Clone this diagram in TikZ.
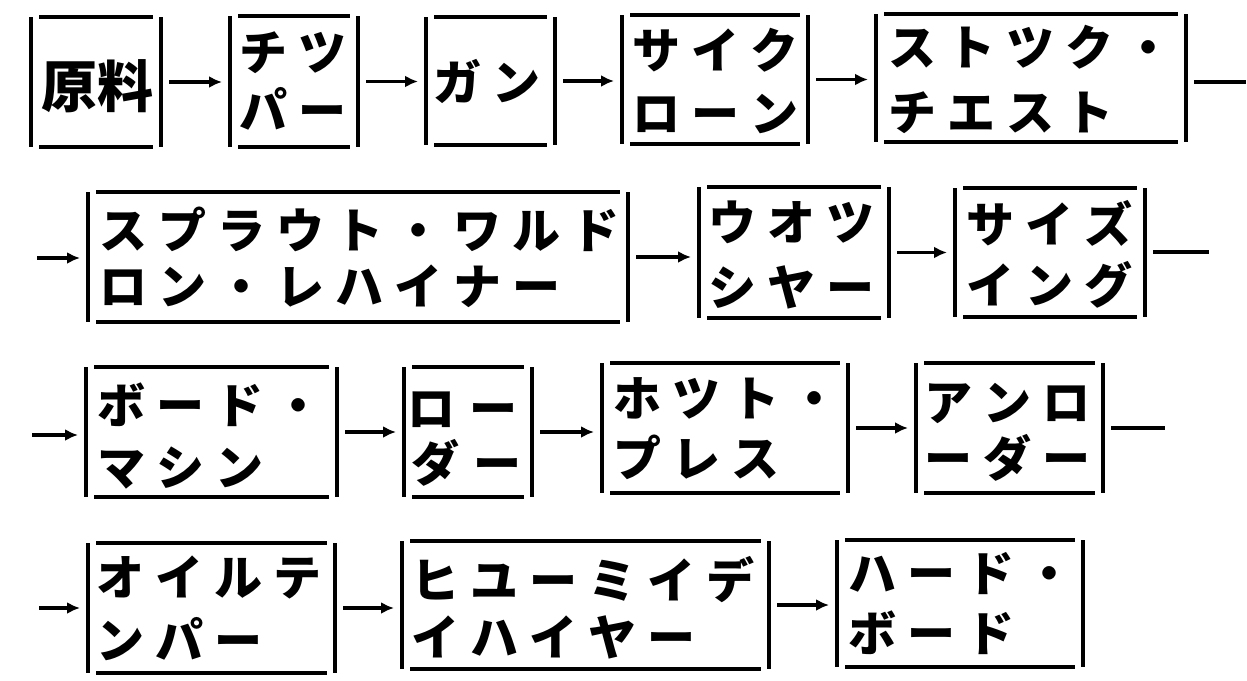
\documentclass[tikz,border=0pt]{standalone}
\usepackage{fontspec}
\newfontfamily\jp{Noto Sans CJK JP}
\usetikzlibrary{arrows.meta}
\newlength\kkpitch
\setlength\kkpitch{59pt}
\newcommand\kk[1]{\kkloop#1\relax}
\def\kkloop#1{\ifx#1\relax\else\makebox[\kkpitch][c]{#1}\expandafter\kkloop\fi}
\tikzset{
  side/.style={line width=3.8pt},
  arr/.style={line width=3.4pt, -{Latex[length=13pt,width=12pt]}, shorten <=8pt, shorten >=8pt},
  tail/.style={line width=3.4pt, shorten <=8pt},
  boxnode/.style={inner sep=0pt, outer sep=0pt, draw=none, rectangle},
  txt/.style={inner sep=0pt, anchor=west, font=\jp\bfseries\fontsize{48pt}{48pt}\selectfont, text height=42pt, text depth=6pt}
}
% name, L, R, T, B
\newcommand\kbox[5]{%
  \node[boxnode, minimum width={(#3-#2)*1pt}, minimum height={(#5-#4)*1pt}] (#1) at ({(#2+#3)/2},{(#4+#5)/2}) {};
  \draw[side] (#1.north west) -- (#1.south west);
  \draw[side] (#1.north east) -- (#1.south east);
  \draw[side] ([xshift=8pt]#1.north west) -- ([xshift=-8pt]#1.north east);
  \draw[side] ([xshift=8pt]#1.south west) -- ([xshift=-8pt]#1.south east);
}
% name, xleft, y, text
\newcommand\ktext[4]{\node[txt] (#1) at (#2,#3) {\kk{#4}};}
\begin{document}
\begin{tikzpicture}[x=1pt,y=-1pt]
\useasboundingbox (0,0) rectangle (1247,680);
\fill[white] (0,0) rectangle (1247,680);
% ---- row 1
\kbox{b1}{31}{161}{17}{147}
\kbox{b2}{230}{358}{16}{147}
\kbox{b3}{426}{555}{17}{145}
\kbox{b4}{622}{808}{15}{144}
\kbox{b5}{876}{1186}{14}{142}
\node[txt, font=\jp\bfseries\fontsize{56pt}{56pt}\selectfont, inner sep=0pt, anchor=center] (t1) at (97,89) {原料};
\ktext{t2a}{233.5}{52}{チツ}
\ktext{t2b}{233.5}{110}{パー}
\ktext{t3}{428}{82}{ガン}
\ktext{t4a}{626.5}{50}{サイク}
\ktext{t4b}{626.5}{113}{ローン}
\ktext{t5a}{882.5}{47}{ストツク・}
\ktext{t5b}{882.5}{112}{チエスト}
% ---- row 2
\kbox{b6}{88}{628}{192}{322}
\kbox{b7}{699}{889}{187}{318}
\kbox{b8}{955}{1145}{188}{317}
\ktext{t6a}{93.5}{230}{スプラウト・ワルド}
\ktext{t6b}{93.5}{286}{ロン・レハイナー}
\ktext{t7a}{702.5}{222}{ウオツ}
\ktext{t7b}{702.5}{287}{シヤー}
\ktext{t8a}{960.5}{224}{サイズ}
\ktext{t8b}{960.5}{285}{イング}
% ---- row 3
\kbox{b9}{86}{337}{367}{497}
\kbox{b10}{404}{532}{367}{497}
\kbox{b11}{602}{848}{363}{493}
\kbox{b12}{916}{1103}{363}{493}
\ktext{t9a}{91.5}{405}{ボード・}
\ktext{t9b}{91.5}{467}{マシン}
\begingroup\setlength\kkpitch{62pt}
\ktext{t10a}{400}{408}{ロー}
\ktext{t10b}{404}{463}{ダー}
\endgroup
\ktext{t11a}{607.5}{398}{ホツト・}
\ktext{t11b}{607.5}{458}{プレス}
\ktext{t12a}{918.5}{402}{アンロ}
\ktext{t12b}{918.5}{458}{ーダー}
% ---- row 4
\kbox{b13}{88}{335}{543}{673}
\kbox{b14}{402}{769}{541}{669}
\kbox{b15}{837}{1083}{540}{667}
\ktext{t13a}{90.5}{577}{オイルテ}
\ktext{t13b}{90.5}{640}{ンパー}
\ktext{t14a}{405.5}{580}{ヒユーミイデ}
\ktext{t14b}{405.5}{637}{イハイヤー}
\ktext{t15a}{842.5}{573}{ハード・}
\ktext{t15b}{842.5}{633}{ボード}
% ---- row-end coordinates
\coordinate (e1) at (1246,82);
\coordinate (s2) at (29,258);
\coordinate (e2) at (1209,252);
\coordinate (s3) at (24,435);
\coordinate (e3) at (1165,428);
\coordinate (s4) at (31,608);
% ---- connectors
\draw[arr] (b1.east) -- (b1.east -| b2.west);
\draw[arr] (b2.east) -- (b2.east -| b3.west);
\draw[arr] (b3.east) -- (b3.east -| b4.west);
\draw[arr] (b4.east) -- (b4.east -| b5.west);
\draw[tail] (b5.east |- e1) -- (e1);
\draw[arr] (s2) -- (s2 -| b6.west);
\draw[arr] (b6.east) -- (b6.east -| b7.west);
\draw[arr] (b7.east) -- (b7.east -| b8.west);
\draw[tail] (b8.east |- e2) -- (e2);
\draw[arr] (s3) -- (s3 -| b9.west);
\draw[arr] (b9.east) -- (b9.east -| b10.west);
\draw[arr] (b10.east) -- (b10.east -| b11.west);
\draw[arr] (b11.east) -- (b11.east -| b12.west);
\draw[tail] (b12.east |- e3) -- (e3);
\draw[arr] (s4) -- (s4 -| b13.west);
\draw[arr] (b13.east) -- (b13.east -| b14.west);
\draw[arr] (b14.east) -- (b14.east -| b15.west);
\end{tikzpicture}
\end{document}
